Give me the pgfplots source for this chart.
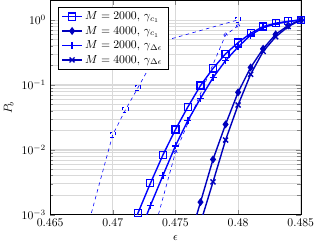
\documentclass[border=0pt]{standalone}
\usepackage{pgfplots}
\pgfplotsset{compat=1.18}
\definecolor{dblue}{RGB}{0,0,190}
\begin{document}
\begin{tikzpicture}
\begin{axis}[
  scale only axis,
  width=214pt, height=183pt,
  xmin=0.465, xmax=0.485,
  ymode=log, ymin=1e-3, ymax=2,
  xtick={0.465,0.47,0.475,0.48,0.485},
  xticklabels={0.465,0.47,0.475,0.48,0.485},
  ytick={1e-3,1e-2,1e-1,1},
  xmajorgrids, ymajorgrids, yminorgrids,
  major grid style={gray!30, line width=0.6pt},
  minor grid style={gray!30, line width=0.4pt},
  xlabel={$\epsilon$}, ylabel={$P_b$},
  legend pos=north west,
  legend cell align=left,
  legend style={at={(0.03,0.97)},anchor=north west, font=\normalsize},
  every axis plot/.append style={line width=1.2pt},
]
\addplot[blue, mark=square, mark size=3pt, mark options={solid, line width=1pt}] coordinates {
(0.471,3.5e-4) (0.472,1.05e-3) (0.473,3.04e-3) (0.474,8.3e-3) (0.475,0.0205) (0.476,0.046) (0.477,0.0975) (0.478,0.179) (0.479,0.30) (0.480,0.447) (0.481,0.62) (0.482,0.79) (0.483,0.89) (0.484,0.95) (0.485,1.0)};
\addlegendentry{$M = 2000$, $\gamma_{c_1}$}
\addplot[dblue, mark=diamond*, mark size=2.5pt, mark options={solid}] coordinates {
(0.476,3.5e-4) (0.477,1.56e-3) (0.478,7.1e-3) (0.479,0.0246) (0.480,0.0767) (0.481,0.185) (0.482,0.36) (0.483,0.60) (0.484,0.82) (0.485,1.0)};
\addlegendentry{$M = 4000$, $\gamma_{c_1}$}
\addplot[blue, mark=+, mark size=3pt, mark options={solid}] coordinates {
(0.472,4.4e-4) (0.473,1.38e-3) (0.474,4.0e-3) (0.475,0.0115) (0.476,0.0284) (0.477,0.062) (0.478,0.129) (0.479,0.236) (0.480,0.383) (0.481,0.585) (0.482,0.76) (0.483,0.87) (0.484,0.94) (0.485,1.0)};
\addlegendentry{$M = 2000$, $\gamma_{\Delta\epsilon}$}
\addplot[dblue, mark=x, mark size=3pt, mark options={solid}] coordinates {
(0.477,7.5e-4) (0.478,3.2e-3) (0.479,0.0141) (0.480,0.049) (0.481,0.145) (0.482,0.327) (0.483,0.55) (0.484,0.79) (0.485,1.0)};
\addlegendentry{$M = 4000$, $\gamma_{\Delta\epsilon}$}
\addplot[blue, dashed, line width=0.5pt, mark=square, mark size=2.2pt, forget plot] coordinates {
(0.468,6.6e-4) (0.470,0.0171) (0.471,0.0408) (0.472,0.0897) (0.473,0.2) (0.474,0.47) (0.480,1.0)};
\addplot[blue, dashed, line width=0.5pt, mark=diamond, mark size=2pt, forget plot] coordinates {
(0.4735,8e-4) (0.475,0.0091) (0.479,0.585) (0.480,0.81)};
\end{axis}
\end{tikzpicture}
\end{document}
